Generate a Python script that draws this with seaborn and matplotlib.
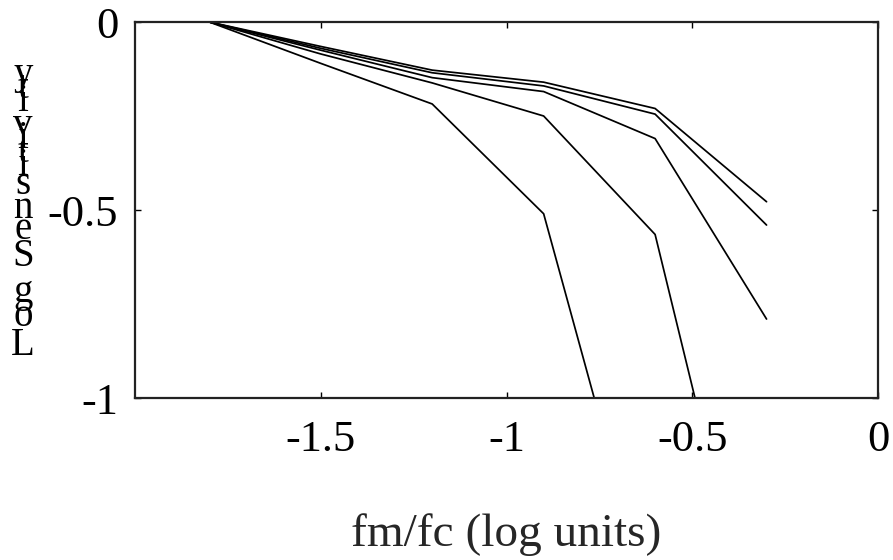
import numpy as np
import pandas as pd
import matplotlib
matplotlib.use("Agg")
import matplotlib.pyplot as plt
import seaborn as sns

# ---- data ----
x_vals = [-1.8, -1.5, -1.2, -0.9, -0.6, -0.3]
series_e = [0.0, -0.065, -0.128, -0.160, -0.230, -0.478]
series_d = [0.0, -0.070, -0.135, -0.170, -0.245, -0.540]
series_c = [0.0, -0.075, -0.148, -0.185, -0.310, -0.790]
series_b = [0.0, -0.085, -0.162, -0.250, -0.565, -1.780]
series_a = [0.0, -0.110, -0.218, -0.510, -1.590, np.nan]
series_names = ["E", "D", "C", "B", "A"]
x_ticks = [-1.5, -1.0, -0.5, 0.0]
x_tick_labels = ["-1.5", "-1", "-0.5", "0"]
y_ticks = [0.0, -0.5, -1.0]
y_tick_labels = ["0", "-0.5", "-1"]
x_label = "fm/fc (log units)"
y_label = "Log Sensitivity"

rows = []
for name, vals in zip(series_names, [series_e, series_d, series_c, series_b, series_a]):
    for xv, yv in zip(x_vals, vals):
        if not np.isnan(yv):
            rows.append({"x": xv, "y": yv, "series": name})
df = pd.DataFrame(rows)

sns.set_style("ticks")
plt.rcParams["font.family"] = ["Liberation Serif", "DejaVu Serif"]

W, H = 893, 560
fig = plt.figure(figsize=(W / 100, H / 100), dpi=100)
ax = fig.add_axes([135 / W, 1 - 398 / H, (878 - 135) / W, (398 - 22) / H])

sns.lineplot(data=df, x="x", y="y", hue="series", units="series",
             estimator=None, sort=False, palette=["black"] * 5,
             linewidth=1.25, legend=False, ax=ax)

ax.set_xlim(-2, 0)
ax.set_ylim(-1, 0)
ax.set_xticks(x_ticks)
ax.set_xticklabels(x_tick_labels)
ax.set_yticks(y_ticks)
ax.set_yticklabels(y_tick_labels)
ax.tick_params(axis="both", direction="in", length=4, width=1, colors="black",
               top=True, right=True, labelsize=32)
ax.tick_params(axis="x", pad=16)
ax.tick_params(axis="y", pad=12)
for sp in ax.spines.values():
    sp.set_visible(True)
    sp.set_linewidth(1.6)
    sp.set_color("#222222")

ax.set_xlabel(x_label, fontsize=34, labelpad=38)
ax.set_ylabel("")

# y label: upright characters stacked bottom-to-top
adv = {'L': .611, 'o': .5, 'g': .5, ' ': .25, 'S': .556, 'e': .444, 'n': .5,
       's': .389, 'i': .278, 't': .278, 'v': .5, 'y': .5}
base = 355.0
for ch in y_label:
    if ch != ' ':
        fig.text(23 / W, 1 - base / H, ch, ha="center", va="baseline",
                 fontsize=28, color="black")
    base -= adv[ch] * 48

fig.savefig("out.png", dpi=100)
